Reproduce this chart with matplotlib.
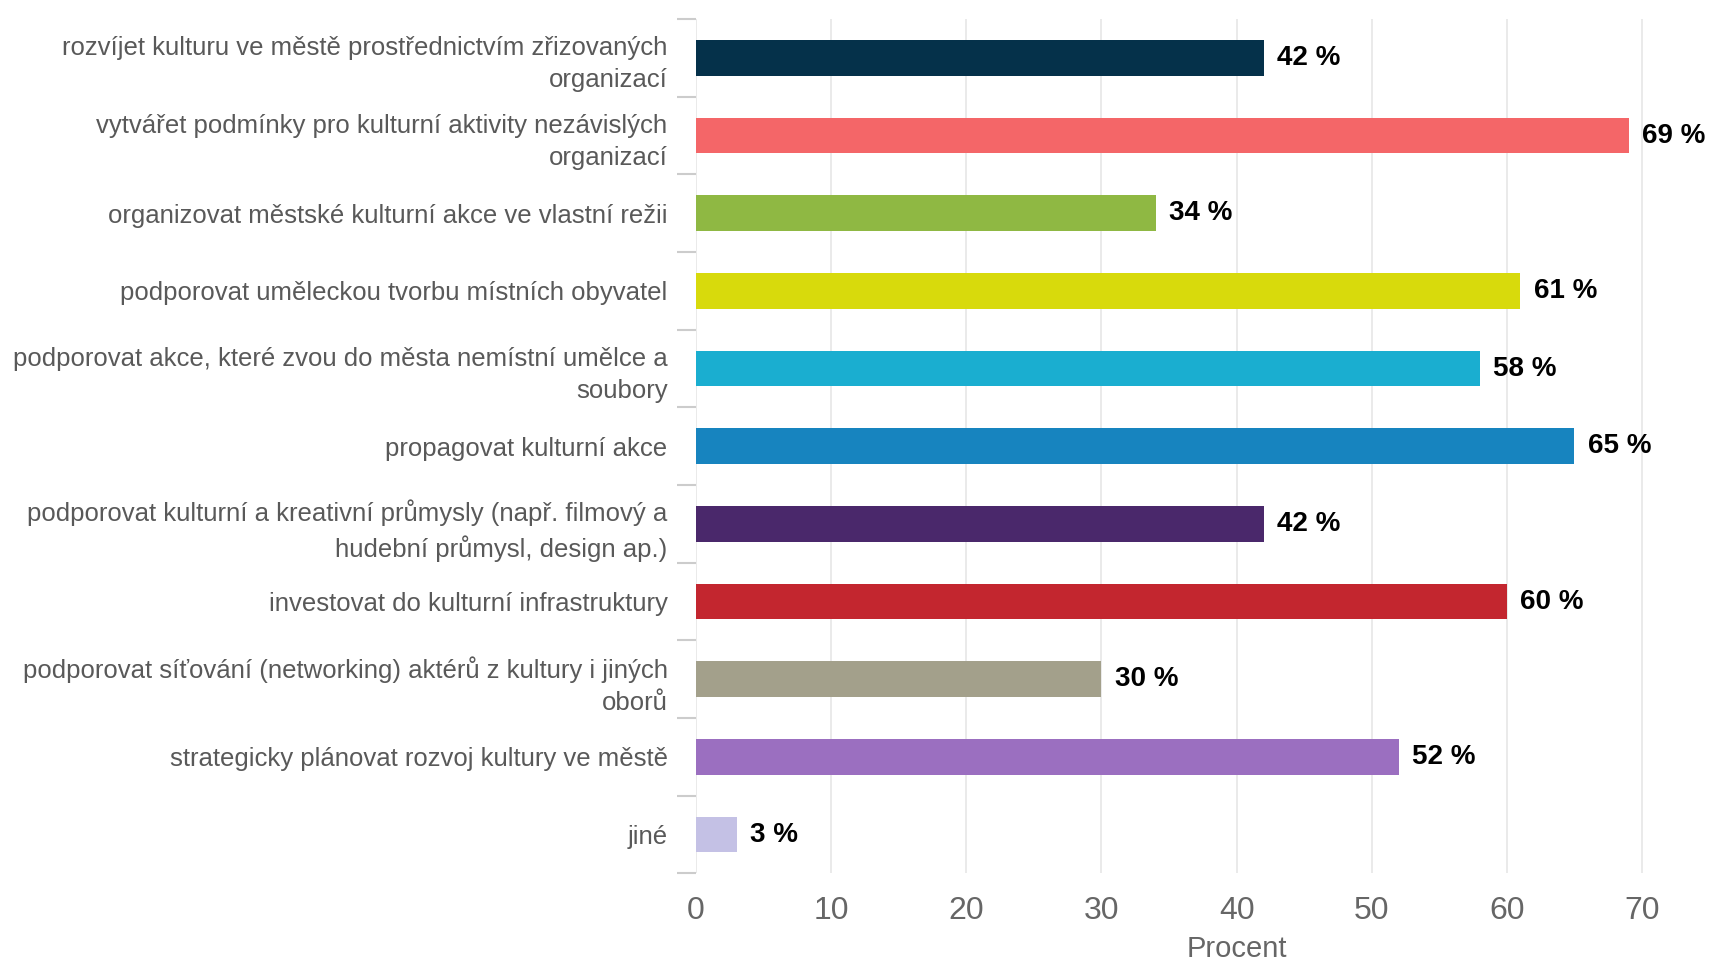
import matplotlib
matplotlib.use("Agg")
import matplotlib.pyplot as plt
import numpy as np

categories = [
    "rozvíjet kulturu ve městě prostřednictvím zřizovaných\norganizací",
    "vytvářet podmínky pro kulturní aktivity nezávislých\norganizací",
    "organizovat městské kulturní akce ve vlastní režii",
    "podporovat uměleckou tvorbu místních obyvatel",
    "podporovat akce, které zvou do města nemístní umělce a\nsoubory",
    "propagovat kulturní akce",
    "podporovat kulturní a kreativní průmysly (např. filmový a\nhudební průmysl, design ap.)",
    "investovat do kulturní infrastruktury",
    "podporovat síťování (networking) aktérů z kultury i jiných\noborů",
    "strategicky plánovat rozvoj kultury ve městě",
    "jiné",
]
values = [42, 69, 34, 61, 58, 65, 42, 60, 30, 52, 3]
colors = ["#05314a", "#f46668", "#8fb843", "#d8da0c", "#1aaed0",
          "#1784bf", "#4a286b", "#c3262f", "#a3a08b", "#9b6fc0", "#c4c1e5"]
x_ticks = [0, 10, 20, 30, 40, 50, 60, 70]

plt.rcParams['font.family'] = ['Liberation Sans', 'DejaVu Sans']

fig = plt.figure(figsize=(17.11, 9.63), dpi=100)
ax = fig.add_axes([0.4068, 0.0930, 0.5687, 0.8872])

y = np.arange(len(categories))
ax.barh(y, values, height=0.46, color=colors, zorder=3)
for yi, v in zip(y, values):
    ax.text(v + 1.0, yi, f"{v} %", va="center", ha="left", fontsize=20,
            fontweight="bold", color="black", clip_on=False)

ax.set_ylim(len(categories) - 0.5, -0.5)
ax.set_xlim(0, 72)
ax.set_xticks(x_ticks)
ax.set_yticks(y)
ax.set_yticklabels(categories, fontsize=18.5, color="#595959", linespacing=1.42)
ax.set_yticks(np.arange(len(categories) + 1) - 0.5, minor=True)
ax.tick_params(axis="y", which="major", length=0, pad=20.5)
ax.tick_params(axis="y", which="minor", length=14, color="#cccccc", width=1.5)
ax.tick_params(axis="x", length=0, labelsize=23, labelcolor="#666666", pad=16)
ax.xaxis.grid(True, color="#e6e6e6", linewidth=1.2, zorder=0)
ax.set_xlabel("Procent", fontsize=21, color="#666666", labelpad=7)
ax.xaxis.label.set_x(40 / 72)
for s in ax.spines.values():
    s.set_visible(False)

fig.savefig("out.png", dpi=100)
